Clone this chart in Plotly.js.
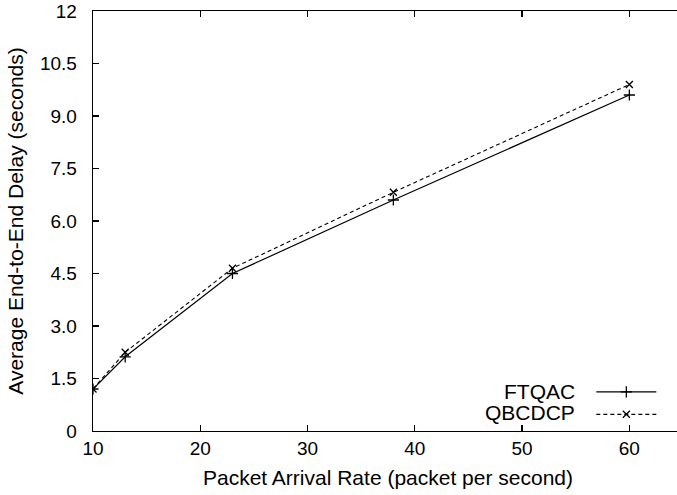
<!DOCTYPE html>
<html>
<head>
<meta charset="utf-8">
<script src="https://cdn.plot.ly/plotly-3.0.1.min.js"></script>
<style>
html,body{margin:0;padding:0;overflow:hidden;background:#fff;}
#chart{width:720px;height:495px;}
</style>
</head>
<body>
<div id="chart"></div>
<script>
const rates = [10, 13, 23, 38, 60];
const ftqac = [1.2, 2.12, 4.5, 6.6, 9.6];
const qbcdcp = [1.2, 2.25, 4.65, 6.82, 9.9];
const seriesNames = ['FTQAC', 'QBCDCP'];
const yTickVals = [0, 1.5, 3, 4.5, 6, 7.5, 9, 10.5, 12];
const yTickText = ['0', '1.5', '3.0', '4.5', '6.0', '7.5', '9.0', '10.5', '12'];
const xTickVals = [10, 20, 30, 40, 50, 60];

const font = 'Liberation Sans, Arial, sans-serif';

const traces = [
  {x: rates, y: ftqac, name: ' ', type: 'scatter', mode: 'lines+markers',
   line: {color: '#000', width: 1.2},
   marker: {symbol: 'cross-thin-open', size: 8, line: {color: '#000', width: 1.3}}},
  {x: rates, y: qbcdcp, name: '  ', type: 'scatter', mode: 'lines+markers',
   line: {color: '#000', width: 1.1, dash: '4px,3px'},
   marker: {symbol: 'x-thin-open', size: 7, line: {color: '#000', width: 1.3}}}
];

const axisCommon = {
  showline: true, linecolor: '#000', linewidth: 1.3, mirror: 'ticks',
  ticks: 'inside', ticklen: 6, tickwidth: 1.3, tickcolor: '#000',
  showgrid: false, zeroline: false,
  tickfont: {family: font, size: 19, color: '#000'}
};

const layout = {
  width: 720, height: 495,
  margin: {l: 93, r: 37, t: 11, b: 64},
  paper_bgcolor: '#fff', plot_bgcolor: '#fff',
  showlegend: true,
  legend: {x: 0.987, y: 0.001, xanchor: 'right', yanchor: 'bottom',
    font: {family: font, size: 15, color: '#000'},
    bgcolor: 'rgba(0,0,0,0)', itemwidth: 60, tracegroupgap: 0},
  xaxis: Object.assign({}, axisCommon, {
    range: [10, 65], tickvals: xTickVals,
    title: {text: 'Packet Arrival Rate (packet per second)', font: {family: font, size: 21, color: '#000'}, standoff: 12}
  }),
  yaxis: Object.assign({}, axisCommon, {
    range: [0, 12], tickvals: yTickVals, ticktext: yTickText,
    ticklabelstandoff: 11,
    title: {text: 'Average End-to-End Delay (seconds)', font: {family: font, size: 21, color: '#000'}, standoff: 10}
  }),
  annotations: seriesNames.map((n, i) => ({
    text: n, xref: 'paper', yref: 'paper', x: 0.82, y: [0.0952, 0.0429][i],
    xanchor: 'right', yanchor: 'middle', showarrow: false,
    font: {family: font, size: 21, color: '#000'}
  }))
};

Plotly.newPlot('chart', traces, layout, {staticPlot: true, displayModeBar: false});
</script>
</body>
</html>
